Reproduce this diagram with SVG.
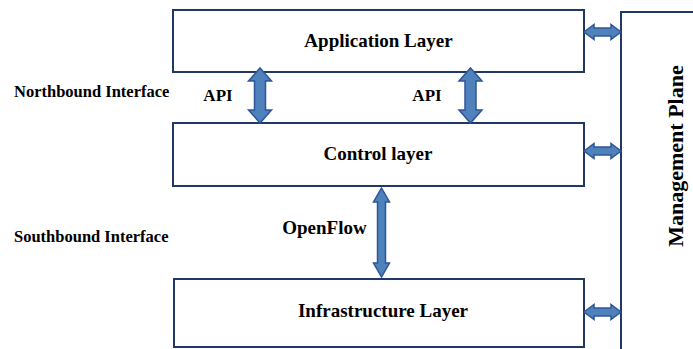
<svg xmlns="http://www.w3.org/2000/svg" width="693" height="349" viewBox="0 0 693 349">
<style>
.box{fill:#fff;stroke:#1f3864;stroke-width:2}
.arr{fill:#4f81bd;stroke:#2f5597;stroke-width:1.5;stroke-linejoin:miter}
text{font-family:"Liberation Serif","Times New Roman",serif;font-weight:bold;fill:#000}
.lbl{font-size:19px;text-anchor:middle}
.mp{font-size:22px;text-anchor:middle}
.side{font-size:16.5px}
.api{font-size:17px;text-anchor:middle}
</style>
<rect width="693" height="349" fill="#fff"/>
<g id="management-plane">
<rect class="box" x="621" y="12" width="100" height="400"/>
<text class="mp" transform="translate(683,156) rotate(-90)">Management Plane</text>
</g>
<g id="application-layer">
<rect class="box" x="173" y="10" width="411" height="62"/>
<text class="lbl" x="378.5" y="47">Application Layer</text>
</g>
<g id="control-layer">
<rect class="box" x="173" y="123" width="411" height="63"/>
<text class="lbl" x="378" y="160">Control layer</text>
</g>
<g id="infrastructure-layer">
<rect class="box" x="174" y="279" width="410" height="68"/>
<text class="lbl" x="383" y="317">Infrastructure Layer</text>
</g>
<g id="labels">
<text class="side" x="14" y="97">Northbound Interface</text>
<text class="side" x="14" y="242">Southbound Interface</text>
<text class="api" x="218" y="101">API</text>
<text class="api" x="427" y="101">API</text>
<text class="lbl" x="324.5" y="234">OpenFlow</text>
</g>
<g id="connectors">
<path class="arr" d="M260,68 L271.5,81 L265.5,81 L265.5,110 L271.5,110 L260,123 L248.5,110 L254.5,110 L254.5,81 L248.5,81 Z"/>
<path class="arr" d="M470.5,68 L482,81 L476,81 L476,110 L482,110 L470.5,123 L459,110 L465,110 L465,81 L459,81 Z"/>
<path class="arr" d="M381.5,188 L389.5,202 L385.5,202 L385.5,263 L389.5,263 L381.5,277 L373.5,263 L377.5,263 L377.5,202 L373.5,202 Z"/>
<path class="arr" d="M584,32 L594,24.5 L594,28 L611,28 L611,24.5 L621,32 L611,39.5 L611,36 L594,36 L594,39.5 Z"/>
<path class="arr" d="M584,151 L594,143.5 L594,147 L611,147 L611,143.5 L621,151 L611,158.5 L611,155 L594,155 L594,158.5 Z"/>
<path class="arr" d="M584,312 L594,304.5 L594,308 L611,308 L611,304.5 L621,312 L611,319.5 L611,316 L594,316 L594,319.5 Z"/>
</g>
</svg>
